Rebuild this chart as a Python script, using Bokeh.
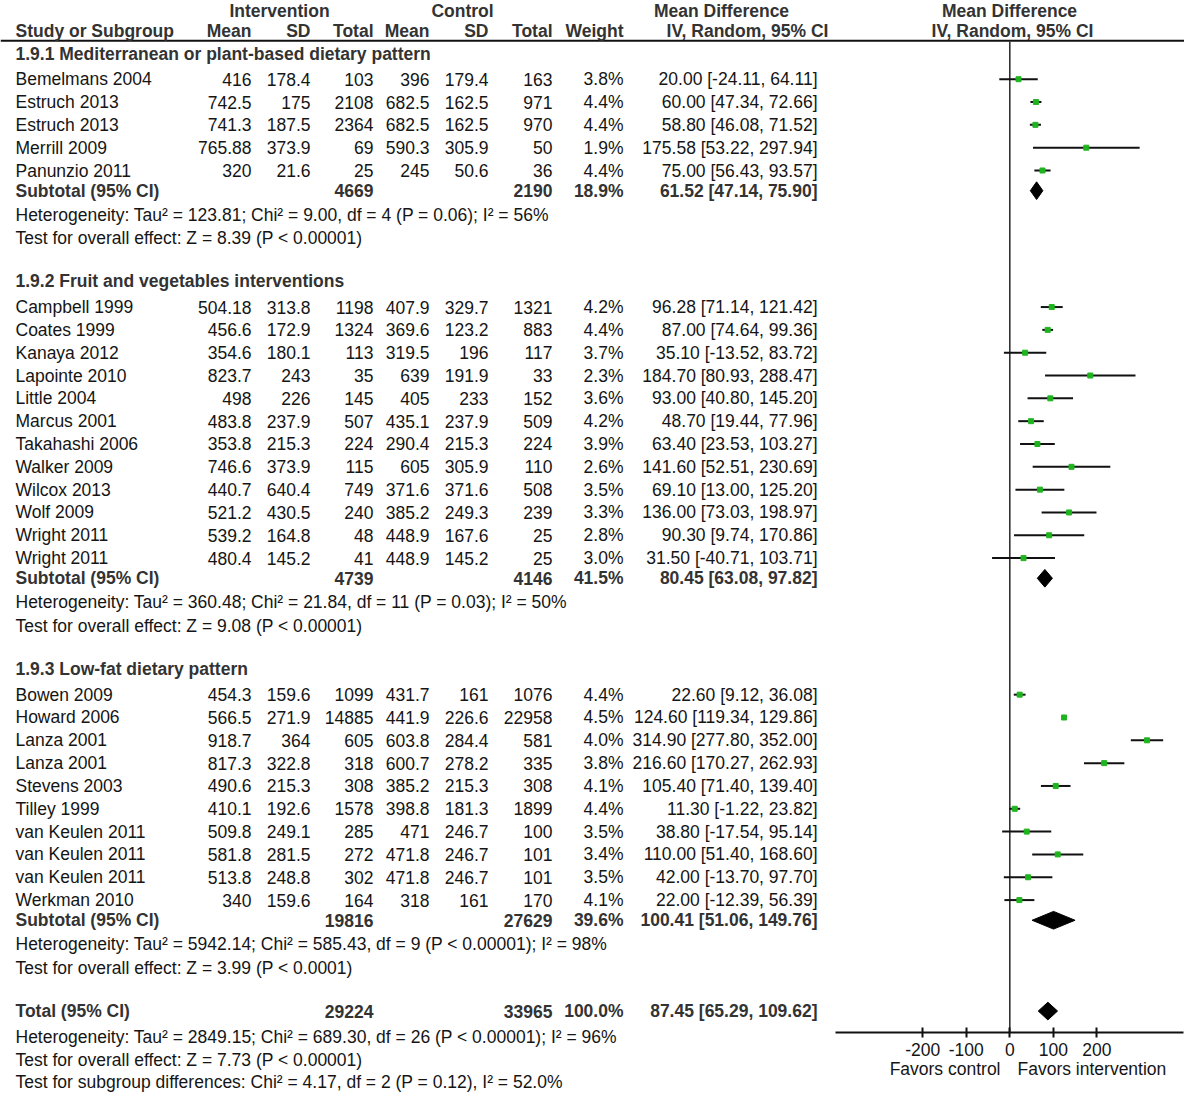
from bokeh.plotting import figure
from bokeh.models import Range1d, FixedTicker, ColumnDataSource, LinearAxis
from bokeh.core.properties import value
from bokeh.embed import file_html
from bokeh.resources import INLINE

# ------------------------------------------------------------------ data
G1_TITLE = "1.9.1 Mediterranean or plant-based dietary pattern"
G1_STUDY = ["Bemelmans 2004", "Estruch 2013", "Estruch 2013", "Merrill 2009", "Panunzio 2011"]
G1_INT_MEAN = [416, 742.5, 741.3, 765.88, 320]
G1_INT_SD = [178.4, 175, 187.5, 373.9, 21.6]
G1_INT_N = [103, 2108, 2364, 69, 25]
G1_CTL_MEAN = [396, 682.5, 682.5, 590.3, 245]
G1_CTL_SD = [179.4, 162.5, 162.5, 305.9, 50.6]
G1_CTL_N = [163, 971, 970, 50, 36]
G1_WEIGHT = [3.8, 4.4, 4.4, 1.9, 4.4]
G1_MD = [20.00, 60.00, 58.80, 175.58, 75.00]
G1_LO = [-24.11, 47.34, 46.08, 53.22, 56.43]
G1_HI = [64.11, 72.66, 71.52, 297.94, 93.57]
G1_SUB_N = [4669, 2190]
G1_SUB_W = 18.9
G1_SUB_MD = [61.52, 47.14, 75.90]
G1_HET = "Heterogeneity: Tau² = 123.81; Chi² = 9.00, df = 4 (P = 0.06); I² = 56%"
G1_TEST = "Test for overall effect: Z = 8.39 (P < 0.00001)"

G2_TITLE = "1.9.2 Fruit and vegetables interventions"
G2_STUDY = ["Campbell 1999", "Coates 1999", "Kanaya 2012", "Lapointe 2010", "Little 2004",
            "Marcus 2001", "Takahashi 2006", "Walker 2009", "Wilcox 2013", "Wolf 2009",
            "Wright 2011", "Wright 2011"]
G2_INT_MEAN = [504.18, 456.6, 354.6, 823.7, 498, 483.8, 353.8, 746.6, 440.7, 521.2, 539.2, 480.4]
G2_INT_SD = [313.8, 172.9, 180.1, 243, 226, 237.9, 215.3, 373.9, 640.4, 430.5, 164.8, 145.2]
G2_INT_N = [1198, 1324, 113, 35, 145, 507, 224, 115, 749, 240, 48, 41]
G2_CTL_MEAN = [407.9, 369.6, 319.5, 639, 405, 435.1, 290.4, 605, 371.6, 385.2, 448.9, 448.9]
G2_CTL_SD = [329.7, 123.2, 196, 191.9, 233, 237.9, 215.3, 305.9, 371.6, 249.3, 167.6, 145.2]
G2_CTL_N = [1321, 883, 117, 33, 152, 509, 224, 110, 508, 239, 25, 25]
G2_WEIGHT = [4.2, 4.4, 3.7, 2.3, 3.6, 4.2, 3.9, 2.6, 3.5, 3.3, 2.8, 3.0]
G2_MD = [96.28, 87.00, 35.10, 184.70, 93.00, 48.70, 63.40, 141.60, 69.10, 136.00, 90.30, 31.50]
G2_LO = [71.14, 74.64, -13.52, 80.93, 40.80, 19.44, 23.53, 52.51, 13.00, 73.03, 9.74, -40.71]
G2_HI = [121.42, 99.36, 83.72, 288.47, 145.20, 77.96, 103.27, 230.69, 125.20, 198.97, 170.86, 103.71]
G2_SUB_N = [4739, 4146]
G2_SUB_W = 41.5
G2_SUB_MD = [80.45, 63.08, 97.82]
G2_HET = "Heterogeneity: Tau² = 360.48; Chi² = 21.84, df = 11 (P = 0.03); I² = 50%"
G2_TEST = "Test for overall effect: Z = 9.08 (P < 0.00001)"

G3_TITLE = "1.9.3 Low-fat dietary pattern"
G3_STUDY = ["Bowen 2009", "Howard 2006", "Lanza 2001", "Lanza 2001", "Stevens 2003",
            "Tilley 1999", "van Keulen 2011", "van Keulen 2011", "van Keulen 2011", "Werkman 2010"]
G3_INT_MEAN = [454.3, 566.5, 918.7, 817.3, 490.6, 410.1, 509.8, 581.8, 513.8, 340]
G3_INT_SD = [159.6, 271.9, 364, 322.8, 215.3, 192.6, 249.1, 281.5, 248.8, 159.6]
G3_INT_N = [1099, 14885, 605, 318, 308, 1578, 285, 272, 302, 164]
G3_CTL_MEAN = [431.7, 441.9, 603.8, 600.7, 385.2, 398.8, 471, 471.8, 471.8, 318]
G3_CTL_SD = [161, 226.6, 284.4, 278.2, 215.3, 181.3, 246.7, 246.7, 246.7, 161]
G3_CTL_N = [1076, 22958, 581, 335, 308, 1899, 100, 101, 101, 170]
G3_WEIGHT = [4.4, 4.5, 4.0, 3.8, 4.1, 4.4, 3.5, 3.4, 3.5, 4.1]
G3_MD = [22.60, 124.60, 314.90, 216.60, 105.40, 11.30, 38.80, 110.00, 42.00, 22.00]
G3_LO = [9.12, 119.34, 277.80, 170.27, 71.40, -1.22, -17.54, 51.40, -13.70, -12.39]
G3_HI = [36.08, 129.86, 352.00, 262.93, 139.40, 23.82, 95.14, 168.60, 97.70, 56.39]
G3_SUB_N = [19816, 27629]
G3_SUB_W = 39.6
G3_SUB_MD = [100.41, 51.06, 149.76]
G3_HET = "Heterogeneity: Tau² = 5942.14; Chi² = 585.43, df = 9 (P < 0.00001); I² = 98%"
G3_TEST = "Test for overall effect: Z = 3.99 (P < 0.0001)"

TOTAL_N = [29224, 33965]
TOTAL_W = 100.0
TOTAL_MD = [87.45, 65.29, 109.62]
TOTAL_HET = "Heterogeneity: Tau² = 2849.15; Chi² = 689.30, df = 26 (P < 0.00001); I² = 96%"
TOTAL_TEST = "Test for overall effect: Z = 7.73 (P < 0.00001)"
TOTAL_SUBGROUP = "Test for subgroup differences: Chi² = 4.17, df = 2 (P = 0.12), I² = 52.0%"

AXIS_TICKS = [-200, -100, 0, 100, 200]
AXIS_BOUNDS = (-400, 398)
LEFT_LABEL = "Favors control"
RIGHT_LABEL = "Favors intervention"

GROUPS = [
    (G1_TITLE, G1_STUDY, G1_INT_MEAN, G1_INT_SD, G1_INT_N, G1_CTL_MEAN, G1_CTL_SD, G1_CTL_N,
     G1_WEIGHT, G1_MD, G1_LO, G1_HI, G1_SUB_N, G1_SUB_W, G1_SUB_MD, G1_HET, G1_TEST),
    (G2_TITLE, G2_STUDY, G2_INT_MEAN, G2_INT_SD, G2_INT_N, G2_CTL_MEAN, G2_CTL_SD, G2_CTL_N,
     G2_WEIGHT, G2_MD, G2_LO, G2_HI, G2_SUB_N, G2_SUB_W, G2_SUB_MD, G2_HET, G2_TEST),
    (G3_TITLE, G3_STUDY, G3_INT_MEAN, G3_INT_SD, G3_INT_N, G3_CTL_MEAN, G3_CTL_SD, G3_CTL_N,
     G3_WEIGHT, G3_MD, G3_LO, G3_HI, G3_SUB_N, G3_SUB_W, G3_SUB_MD, G3_HET, G3_TEST),
]

# ------------------------------------------------------------------ layout
FONT = "Liberation Sans"
FS = "17.5px"
REG = "#151515"
BOLD = "#333333"
GREEN = "#1fb41f"

W, H = 1184, 1093
PX_LEFT, PX_RIGHT = 0, 1184           # layout coordinate range (horizontal)
ZERO_X, PX_PER_UNIT = 1009.3, 0.4357  # where MD = 0 sits, and scale
X_NAME = 15
X_COLS = [251, 310, 373, 429, 488, 552, 623, 817]
HEADER_LINE_Y = 40
AXIS_Y = 1048
DIAMOND_HALF = 9

p = figure(width=W, height=H, output_backend="svg", toolbar_location=None,
           x_range=Range1d(PX_LEFT, PX_RIGHT), y_range=Range1d(1110, -1),
           x_axis_location=None, y_axis_location=None, min_border=0)
p.extra_x_ranges = {"md": Range1d((PX_LEFT - ZERO_X) / PX_PER_UNIT,
                                  (PX_RIGHT - ZERO_X) / PX_PER_UNIT)}
p.grid.visible = False
p.outline_line_color = None
p.background_fill_color = "white"
p.border_fill_color = "white"

texts = {}  # (align, bold) -> dict of lists


def add_text(x, y, s, align="left", bold=False):
    key = (align, bold)
    d = texts.setdefault(key, {"x": [], "y": [], "t": []})
    d["x"].append(x)
    d["y"].append(y)
    d["t"].append(s)


def fmt(v):
    return f"{v:g}"


def fmt_ci(m, lo, hi):
    return f"{m:.2f} [{lo:.2f}, {hi:.2f}]"


# headers
HY1, HY2 = 10, 30
add_text(279, HY1, "Intervention", "center", True)
add_text(462, HY1, "Control", "center", True)
add_text(721, HY1, "Mean Difference", "center", True)
add_text(1009, HY1, "Mean Difference", "center", True)
add_text(X_NAME, HY2, "Study or Subgroup", "left", True)
for x, s in zip(X_COLS[:7], ["Mean", "SD", "Total", "Mean", "SD", "Total", "Weight"]):
    add_text(x, HY2, s, "right", True)
add_text(747, HY2, "IV, Random, 95% CI", "center", True)
add_text(1012, HY2, "IV, Random, 95% CI", "center", True)

seg = {"x0": [], "x1": [], "y": []}
pts = {"x": [], "y": []}
dia = {"xs": [], "ys": []}

y = 53
for gi, g in enumerate(GROUPS):
    (title, study, im, isd, inn, cm, csd, cn, w, md, lo, hi,
     sub_n, sub_w, sub_md, het, test) = g
    add_text(X_NAME, y, title, "left", True)
    y += 26
    for i in range(len(study)):
        if i > 0:
            y += 23.2
        add_text(X_NAME, y, study[i])
        vals = [fmt(im[i]), fmt(isd[i]), fmt(inn[i]), fmt(cm[i]), fmt(csd[i]),
                fmt(cn[i]), f"{w[i]:.1f}%", fmt_ci(md[i], lo[i], hi[i])]
        for x, s in zip(X_COLS, vals):
            add_text(x, y, s, "right")
        seg["x0"].append(lo[i]); seg["x1"].append(hi[i]); seg["y"].append(y)
        pts["x"].append(md[i]); pts["y"].append(y)
    y += 20.5
    add_text(X_NAME, y, "Subtotal (95% CI)", "left", True)
    add_text(X_COLS[2], y, fmt(sub_n[0]), "right", True)
    add_text(X_COLS[5], y, fmt(sub_n[1]), "right", True)
    add_text(X_COLS[6], y, f"{sub_w:.1f}%", "right", True)
    add_text(X_COLS[7], y, fmt_ci(*sub_md), "right", True)
    m, l, h = sub_md
    dia["xs"].append([l, m, h, m])
    dia["ys"].append([y, y - DIAMOND_HALF, y, y + DIAMOND_HALF])
    y += 24.5
    add_text(X_NAME, y, het)
    y += 23.8
    add_text(X_NAME, y, test)
    y += 44

# total
add_text(X_NAME, y, "Total (95% CI)", "left", True)
add_text(X_COLS[2], y, fmt(TOTAL_N[0]), "right", True)
add_text(X_COLS[5], y, fmt(TOTAL_N[1]), "right", True)
add_text(X_COLS[6], y, f"{TOTAL_W:.1f}%", "right", True)
add_text(X_COLS[7], y, fmt_ci(*TOTAL_MD), "right", True)
m, l, h = TOTAL_MD
dia["xs"].append([l, m, h, m])
dia["ys"].append([y, y - DIAMOND_HALF, y, y + DIAMOND_HALF])
y += 26
add_text(X_NAME, y, TOTAL_HET)
y += 24
add_text(X_NAME, y, TOTAL_TEST)
y += 22.5
add_text(X_NAME, y, TOTAL_SUBGROUP)

add_text(1000, 1085, LEFT_LABEL, "right")
add_text(1017, 1085, RIGHT_LABEL, "left")

# lines
p.segment(x0=[PX_LEFT], x1=[PX_RIGHT], y0=[HEADER_LINE_Y], y1=[HEADER_LINE_Y],
          line_width=2, line_color="#111111")
p.segment(x0=[0], x1=[0], y0=[HEADER_LINE_Y], y1=[AXIS_Y], x_range_name="md",
          line_width=1.6, line_color="#333333")

src_seg = ColumnDataSource(seg)
p.segment(x0="x0", x1="x1", y0="y", y1="y", source=src_seg, x_range_name="md",
          line_width=2, line_color="#111111")
p.scatter(x="x", y="y", source=ColumnDataSource(pts), marker="square", size=5,
          fill_color=GREEN, line_color=GREEN, x_range_name="md")
p.patches(xs="xs", ys="ys", source=ColumnDataSource(dia), x_range_name="md",
          fill_color="#000000", line_color="#000000")

for (align, bold), d in texts.items():
    p.text(x="x", y="y", text="t", source=ColumnDataSource(d),
           text_font=value(FONT), text_font_size=FS,
           text_font_style="bold" if bold else "normal",
           text_color=BOLD if bold else REG,
           text_align=align, text_baseline="middle")

axis = LinearAxis(x_range_name="md", ticker=FixedTicker(ticks=AXIS_TICKS),
                  bounds=AXIS_BOUNDS, fixed_location=AXIS_Y)
axis.major_label_overrides = {t: str(t) for t in AXIS_TICKS}
axis.major_tick_in = 5
axis.major_tick_out = 5
axis.minor_tick_line_color = None
axis.axis_line_width = 2
axis.axis_line_color = "#111111"
axis.major_tick_line_width = 2
axis.major_tick_line_color = "#111111"
axis.major_label_text_font = FONT
axis.major_label_text_font_size = FS
axis.major_label_text_color = REG
axis.major_label_standoff = 5
p.add_layout(axis, "below")

open("out.html", "w").write(file_html(p, INLINE))
